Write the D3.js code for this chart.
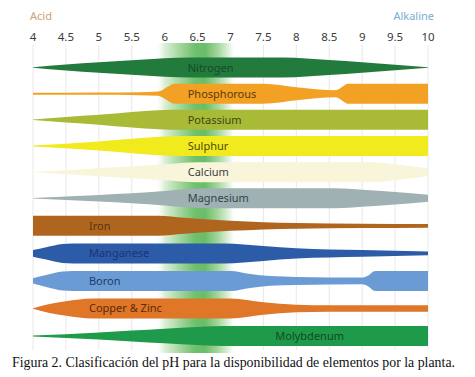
<!DOCTYPE html>
<meta charset="utf-8">
<style>
  body { margin: 0; background: #fff; }
  svg { display: block; }
</style>
<script src="https://d3js.org/d3.v7.min.js"></script>
<div id="ph_viz"></div>
<script>
// nutrient names, top to bottom
const elements = ["Nitrogen", "Phosphorous", "Potassium", "Sulphur", "Calcium", "Magnesium",
                  "Iron", "Manganese", "Boron", "Copper & Zinc", "Molybdenum"];

// relative availability (0..1) along the pH scale, one list per nutrient
const nitrogen    = [[4,0.02],[4.5,0.3],[5,0.52],[5.5,0.72],[6,0.92],[6.4,1],[7.8,1],[8.5,0.75],[9,0.52],[9.5,0.28],[10,0.02]];
const phosphorous = [[4,0.1],[5,0.12],[5.6,0.15],[5.9,0.22],[6.05,0.7],[6.15,1],[7.5,1],[8,0.65],[8.3,0.45],[8.6,0.35],[8.7,0.7],[8.78,1],[10,1]];
const potassium   = [[4,0.02],[4.5,0.28],[5,0.5],[5.5,0.78],[5.9,0.95],[6.1,1],[10,1]];
const sulphur     = [[4,0.05],[5,0.45],[5.5,0.72],[6,0.95],[6.2,1],[10,1]];
const calcium     = [[4,0.02],[5,0.4],[6,0.8],[6.5,1],[9.2,1],[9.5,0.8],[10,0.38]];
const magnesium   = [[4,0.02],[5,0.33],[6,0.72],[6.4,0.95],[6.6,1],[8.6,1],[9,0.85],[9.5,0.62],[10,0.35]];
const iron        = [[4,1],[5.9,1],[6.3,0.8],[6.6,0.65],[7,0.5],[7.5,0.36],[8,0.28],[9,0.22],[10,0.18]];
const manganese   = [[4,0.33],[4.2,0.62],[4.45,0.95],[4.6,1],[6.9,1],[7.5,0.75],[8,0.52],[9,0.34],[10,0.18]];
const boron       = [[4,0.27],[4.2,0.6],[4.45,0.95],[4.6,1],[7,1],[7.3,0.7],[7.6,0.48],[8,0.4],[9,0.34],[9.08,0.5],[9.2,1],[10,1]];
const copperZinc  = [[4,0.02],[4.25,0.45],[4.5,0.72],[4.9,1],[7,1],[7.5,0.62],[8,0.38],[8.5,0.32],[10,0.32]];
const molybdenum  = [[4,0.04],[5,0.36],[5.5,0.55],[6,0.73],[6.5,0.9],[6.9,1],[10,1]];

const profiles = [nitrogen, phosphorous, potassium, sulphur, calcium, magnesium,
                  iron, manganese, boron, copperZinc, molybdenum];

// pH where each name is written
const labelPH = [6.35, 6.35, 6.35, 6.35, 6.35, 6.35, 4.85, 4.85, 4.85, 4.85, 7.68];

// axis ticks
const phTicks = [4, 4.5, 5, 5.5, 6, 6.5, 7, 7.5, 8, 8.5, 9, 9.5, 10];

const bandColors  = ["#227b3d", "#f2a125", "#a9ba36", "#f1ea1c", "#f8f5da", "#a0b1b4",
                     "#b0651f", "#2c5ba8", "#6b9bd4", "#e07628", "#1f9a4b"];
const labelColors = ["#174a26", "#5c3a0a", "#3b4814", "#4d4a0c", "#404040", "#33434a",
                     "#5a3210", "#1b3474", "#1d3a6e", "#5a2a08", "#0f4a24"];

const width = 475, height = 377;

const svg = d3.select("#ph_viz")
  .append("svg")
    .attr("width", width)
    .attr("height", height);

const x = d3.scaleLinear().domain([4, 10]).range([33, 428]);
// rows sit a little further apart toward the bottom
const y = d3.scaleLinear().domain([0, 5, 10]).range([67.5, 198.3, 336]);
const half = 10;

// faint vertical grid (under the glow)
svg.selectAll("line.grid")
  .data(phTicks)
  .enter()
  .append("line")
    .attr("class", "grid")
    .attr("x1", d => x(d)).attr("x2", d => x(d))
    .attr("y1", 45).attr("y2", 350)
    .style("stroke", "#e8e8e8")
    .style("stroke-width", 1);

// the green "ideal" glow between pH 6 and 7
const grad = svg.append("defs").append("linearGradient")
    .attr("id", "glow").attr("x1", "0%").attr("x2", "100%");
[[0, "#ffffff", 0], [0.12, "#dcefd7", 1], [0.3, "#a6d8a0", 1], [0.5, "#6fc06c", 1],
 [0.62, "#6abd68", 1], [0.78, "#a3d69d", 1], [0.92, "#e4f3e1", 1], [1, "#ffffff", 0]].forEach(s => {
  grad.append("stop").attr("offset", s[0]).attr("stop-color", s[1]).attr("stop-opacity", s[2]);
});

svg.append("rect")
    .attr("x", x(5.85)).attr("y", 43)
    .attr("width", x(7.08) - x(5.85)).attr("height", 310)
    .style("fill", "url(#glow)");

// tick labels on top
svg.selectAll("text.tick")
  .data(phTicks)
  .enter()
  .append("text")
    .attr("class", "tick")
    .attr("x", d => x(d))
    .attr("y", 41)
    .attr("text-anchor", "middle")
    .style("font", "11.5px 'Noto Sans', sans-serif")
    .style("fill", "#3a3a3a")
    .text(d => d);

svg.append("text")
    .attr("x", 30).attr("y", 20)
    .style("font", "11px 'Noto Sans', sans-serif")
    .style("fill", "#c9a274")
    .text("Acid");

svg.append("text")
    .attr("x", 434).attr("y", 20)
    .attr("text-anchor", "end")
    .style("font", "11px 'Noto Sans', sans-serif")
    .style("fill", "#7aaed2")
    .text("Alkaline");

// availability bands
const area = (i) => d3.area()
    .x(d => x(d[0]))
    .y0(d => y(i) + half * d[1])
    .y1(d => y(i) - half * d[1])
    .curve(d3.curveMonotoneX);

svg.selectAll("path.band")
  .data(profiles)
  .enter()
  .append("path")
    .attr("class", "band")
    .attr("d", (d, i) => area(i)(d))
    .style("fill", (d, i) => bandColors[i]);

svg.selectAll("text.name")
  .data(elements)
  .enter()
  .append("text")
    .attr("class", "name")
    .attr("x", (d, i) => x(labelPH[i]))
    .attr("y", (d, i) => y(i) + 4)
    .style("font", "11px 'Noto Sans', sans-serif")
    .style("fill", (d, i) => labelColors[i])
    .text(d => d);

// caption
svg.append("text")
    .attr("x", 12).attr("y", 367)
    .attr("textLength", 443)
    .attr("lengthAdjust", "spacingAndGlyphs")
    .style("font", "14px 'Liberation Serif', serif")
    .style("fill", "#111")
    .text("Figura 2. Clasificación del pH para la disponibilidad de elementos por la planta.");
</script>
